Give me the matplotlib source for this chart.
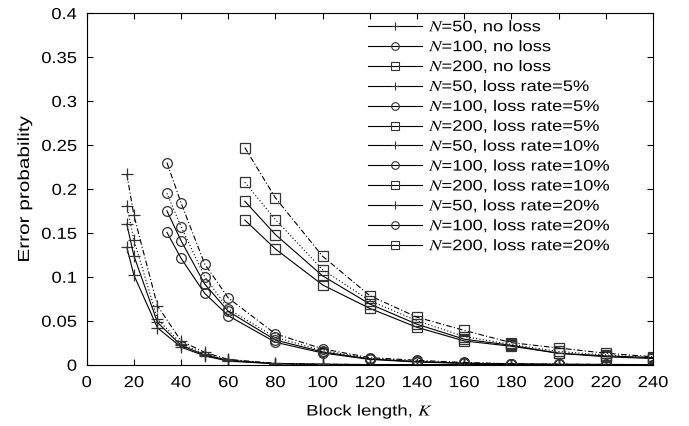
import matplotlib
matplotlib.use("Agg")
import matplotlib.pyplot as plt
from matplotlib.lines import Line2D
from matplotlib.patheffects import AbstractPathEffect
from matplotlib.transforms import Affine2D

plt.rcParams['font.family'] = ['Liberation Sans', 'DejaVu Sans']
plt.rcParams['mathtext.fontset'] = 'stix'

# block lengths for each N
k50 = [17, 20, 30, 40, 50, 60, 80, 100, 120, 140, 160, 180, 200, 220, 240]
k100 = [34, 40, 50, 60, 80, 100, 120, 140, 160, 180, 200, 220, 240]
k200 = [67, 80, 100, 120, 140, 160, 180, 200, 220, 240]

# error probability, N=50
n50_noloss = [0.1336, 0.102, 0.042, 0.020, 0.010, 0.004, 0.001, 0.0003, 0.0001, 0, 0, 0, 0, 0, 0]
n50_loss5 = [0.160, 0.124, 0.048, 0.022, 0.011, 0.005, 0.0012, 0.0004, 0.0001, 0, 0, 0, 0, 0, 0]
n50_loss10 = [0.181, 0.142, 0.052, 0.024, 0.012, 0.005, 0.0013, 0.0004, 0.0001, 0, 0, 0, 0, 0, 0]
n50_loss20 = [0.217, 0.170, 0.067, 0.027, 0.014, 0.006, 0.0015, 0.0005, 0.0002, 0.0001, 0, 0, 0, 0, 0]

# N=100
n100_noloss = [0.1506, 0.121, 0.0812, 0.0557, 0.0255, 0.0133, 0.006, 0.003, 0.0015, 0.0007, 0.0003, 0.0002, 0.0001]
n100_loss5 = [0.175, 0.141, 0.0918, 0.0607, 0.028, 0.0145, 0.0065, 0.0035, 0.0017, 0.0008, 0.0004, 0.0002, 0.0001]
n100_loss10 = [0.195, 0.157, 0.100, 0.0634, 0.031, 0.016, 0.007, 0.004, 0.002, 0.0009, 0.0004, 0.0002, 0.0001]
n100_loss20 = [0.230, 0.184, 0.1146, 0.0759, 0.035, 0.018, 0.008, 0.005, 0.0025, 0.001, 0.0005, 0.0003, 0.0001]

# N=200
n200_noloss = [0.1646, 0.1316, 0.0907, 0.064, 0.0425, 0.027, 0.021, 0.013, 0.009, 0.007]
n200_loss5 = [0.186, 0.148, 0.101, 0.069, 0.046, 0.029, 0.022, 0.013, 0.010, 0.008]
n200_loss10 = [0.2075, 0.165, 0.108, 0.0728, 0.050, 0.032, 0.023, 0.015, 0.011, 0.008]
n200_loss20 = [0.247, 0.1897, 0.1233, 0.0785, 0.054, 0.039, 0.025, 0.019, 0.013, 0.009]

loss_names = ['no loss', 'loss rate=5%', 'loss rate=10%', 'loss rate=20%']
styles = ['-', '-', (0, (1, 2)), (0, (5, 2, 1, 2))]
markers = {50: '+', 100: 'o', 200: 's'}
series = {
    50: (k50, [n50_noloss, n50_loss5, n50_loss10, n50_loss20]),
    100: (k100, [n100_noloss, n100_loss5, n100_loss10, n100_loss20]),
    200: (k200, [n200_noloss, n200_loss5, n200_loss10, n200_loss20]),
}


class Stretch(AbstractPathEffect):
    # widen text horizontally, the reference font is broader than Arial
    def __init__(self, sx, anchor='left'):
        super().__init__()
        self.sx = sx
        self.anchor = anchor

    def draw_path(self, renderer, gc, tpath, affine, rgbFace=None):
        ext = tpath.get_extents()
        if self.anchor == 'center':
            x0 = (ext.x0 + ext.x1) / 2
        elif self.anchor == 'right':
            x0 = ext.x1
        else:
            x0 = 0
        t = Affine2D().translate(-x0, 0).scale(self.sx, 1).translate(x0, 0)
        renderer.draw_path(gc, tpath, t + affine, rgbFace)


fig = plt.figure(figsize=(6.89, 4.27), dpi=100)
ax = fig.add_axes([0.1258, 0.1436, 0.822, 0.8234])

handles = []
labels = []
for i, name in enumerate(loss_names):
    for n in [50, 100, 200]:
        ks, vals = series[n]
        ax.plot(ks, vals[i], color='k', lw=0.8, linestyle=styles[i],
                marker=markers[n], markersize=7 if n != 50 else 8,
                markerfacecolor='none', markeredgecolor='#333333', markeredgewidth=0.9)
        handles.append(Line2D([], [], color='k', lw=0.8, marker=markers[n],
                              markersize=5.5, markerfacecolor='none',
                              markeredgecolor='#333333', markeredgewidth=0.8))
        labels.append('$N$=%d, %s' % (n, name))

ax.set_xlim(0, 240)
ax.set_ylim(0, 0.4)
ax.set_xticks(range(0, 241, 20))
ax.set_yticks([0, 0.05, 0.1, 0.15, 0.2, 0.25, 0.3, 0.35, 0.4])
ax.set_yticklabels(['0', '0.05', '0.1', '0.15', '0.2', '0.25', '0.3', '0.35', '0.4'])
ax.tick_params(direction='in', top=True, right=True, length=4, width=0.8,
               labelsize=11.5)
ax.tick_params(axis='x', pad=7.5)
ax.tick_params(axis='y', pad=7)
for s in ax.spines.values():
    s.set_linewidth(0.8)

for t in ax.xaxis.get_major_ticks():
    t.label1.set_path_effects([Stretch(1.15, 'center')])
for t in ax.yaxis.get_major_ticks():
    t.label1.set_path_effects([Stretch(1.15, 'right')])

xl = ax.set_xlabel('Block length, $K$', fontsize=11, labelpad=9)
yl = ax.set_ylabel('Error probability', fontsize=11.5, labelpad=10)
xl.set_path_effects([Stretch(1.22, 'center')])
yl.set_path_effects([Stretch(1.3, 'center')])

leg = ax.legend(handles, labels, loc='upper left', bbox_to_anchor=(0.497, 0.985),
                frameon=False, fontsize=11, handlelength=3.5, handletextpad=0.5,
                labelspacing=0.19, borderaxespad=0, borderpad=0)
for t in leg.get_texts():
    t.set_path_effects([Stretch(1.2)])

fig.savefig('out.png', dpi=100)
